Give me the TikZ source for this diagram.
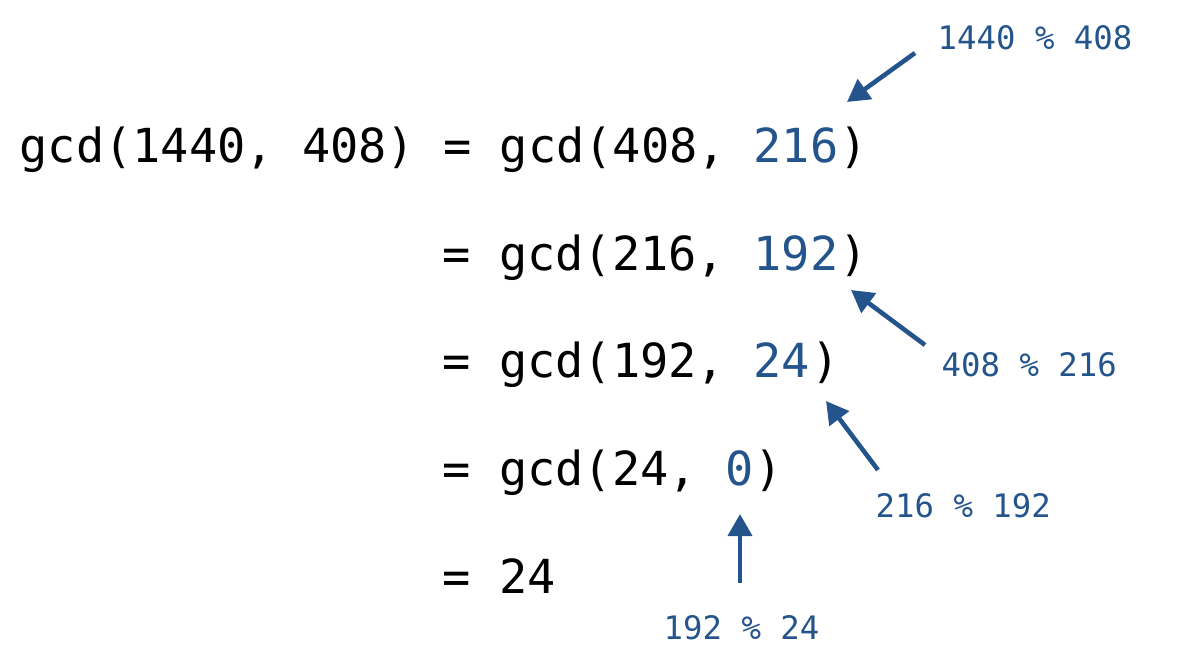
\documentclass[tikz,border=0pt]{standalone}
\usepackage{fontspec}
\usetikzlibrary{arrows.meta}
\newfontfamily\gcdmono{DejaVu Sans Mono}
\definecolor{remblue}{RGB}{36,84,140}
\begin{document}
\begin{tikzpicture}[
  eq/.style={anchor=base west, inner sep=0, font=\gcdmono\fontsize{13.35pt}{16pt}\selectfont},
  rem/.style={eq, text=remblue},
  lbl/.style={anchor=base west, inner sep=0, text=remblue, font=\gcdmono\fontsize{9.2pt}{11pt}\selectfont},
  remarrow/.style={-{Triangle[length=6.3pt, width=6.8pt]}, line width=1.3pt, remblue}]
\useasboundingbox (0,0) rectangle (11.94,6.64);

\node[eq] (l1) at (0.19,5.01) {gcd(1440, 408) = gcd(408,};
\node[rem] (r1) at (7.53,5.01) {216};
\node[eq] (c1) at (r1.base east) {)};

\node[eq] (l2) at (4.42,3.93) {= gcd(216,};
\node[rem] (r2) at (7.53,3.93) {192};
\node[eq] (c2) at (r2.base east) {)};

\node[eq] (l3) at (4.42,2.86) {= gcd(192,};
\node[rem] (r3) at (7.53,2.86) {24};
\node[eq] (c3) at (r3.base east) {)};

\node[eq] (l4) at (4.42,1.78) {= gcd(24,};
\node[rem] (r4) at (7.245,1.78) {0};
\node[eq] (c4) at (r4.base east) {)};

\node[eq] (l5) at (4.42,0.70) {= 24};

\node[lbl] (m1) at (9.37,6.14) {1440 \% 408};
\node[lbl] (m2) at (9.41,2.87) {408 \% 216};
\node[lbl] (m3) at (8.75,1.46) {216 \% 192};
\node[lbl] (m4) at (6.63,0.24) {192 \% 24};

\coordinate (t1) at (9.15,6.11);
\coordinate (h1) at (8.47,5.62);
\coordinate (t2) at (9.25,3.19);
\coordinate (h2) at (8.51,3.74);
\coordinate (t3) at (8.78,1.94);
\coordinate (h3) at (8.26,2.63);
\coordinate (t4) at (7.40,0.81);
\coordinate (h4) at (7.40,1.50);

\draw[remarrow] (t1) -- (h1);
\draw[remarrow] (t2) -- (h2);
\draw[remarrow] (t3) -- (h3);
\draw[remarrow] (t4) -- (h4);

\end{tikzpicture}
\end{document}
